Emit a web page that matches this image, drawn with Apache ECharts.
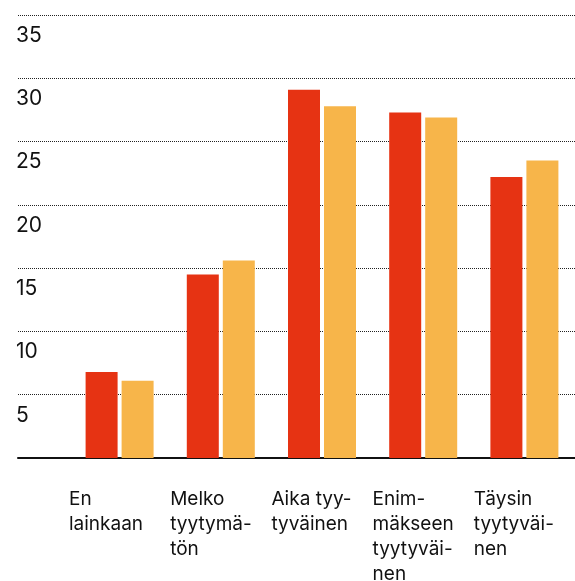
<!DOCTYPE html>
<html>
<head>
<meta charset="utf-8">
<script src="https://cdn.jsdelivr.net/npm/echarts@6/dist/echarts.min.js"></script>
<style>
  html, body { margin: 0; padding: 0; background: #fff; }
  #chart { width: 575px; height: 581px; }
</style>
</head>
<body>
<div id="chart"></div>
<script>
// luokat ja arvot
const categories = ['En\nlainkaan', 'Melko\ntyytymä-\ntön', 'Aika tyy-\ntyväinen', 'Enim-\nmäkseen\ntyytyväi-\nnen', 'Täysin\ntyytyväi-\nnen']
const valuesRed = [6.8, 14.5, 29.1, 27.3, 22.2]
const valuesOrange = [6.1, 15.6, 27.8, 26.9, 23.5]
const yTicks = [0, 5, 10, 15, 20, 25, 30, 35]

const FONT = 'Inter, "Noto Sans", sans-serif'

const chart = echarts.init(document.getElementById('chart'))

const option = {
  animation: false,
  grid: [
    // gridlines + y labels, full width
    { left: 18, right: 0, top: 15, bottom: 123, outerBoundsMode: 'none' },
    // bars
    { left: 69, right: 0, top: 15, bottom: 123, outerBoundsMode: 'none' }
  ],
  xAxis: [
    {
      gridIndex: 0,
      type: 'value',
      min: 0,
      max: 1,
      axisLine: { show: true, lineStyle: { color: '#111', width: 2 } },
      axisTick: { show: false },
      axisLabel: { show: false },
      splitLine: { show: false }
    },
    {
      gridIndex: 1,
      type: 'category',
      data: categories,
      axisLine: { show: false },
      axisTick: { show: false },
      axisLabel: { show: false }
    },
    {
      // labels at the start of each band
      gridIndex: 1,
      type: 'category',
      position: 'bottom',
      boundaryGap: false,
      data: categories.concat(['']),
      axisLine: { show: false },
      axisTick: { show: false },
      axisLabel: {
        interval: 0,
        align: 'left',
        margin: 29,
        color: '#111',
        fontFamily: FONT,
        fontSize: 19,
        lineHeight: 25
      }
    }
  ],
  yAxis: [
    {
      gridIndex: 0,
      type: 'value',
      min: yTicks[0],
      max: yTicks[yTicks.length - 1],
      interval: 5,
      axisLine: { show: false },
      axisTick: { show: false },
      axisLabel: {
        showMinLabel: false,
        align: 'left',
        verticalAlign: 'top',
        padding: [10, 0, 0, 0],
        margin: 2,
        color: '#111',
        fontFamily: FONT,
        fontSize: 21
      },
      splitLine: {
        show: true,
        lineStyle: { color: '#222', type: [1, 1], width: 1 }
      }
    },
    {
      gridIndex: 1,
      type: 'value',
      min: yTicks[0],
      max: yTicks[yTicks.length - 1],
      interval: 5,
      show: false,
      splitLine: { show: false }
    }
  ],
  series: [
    {
      type: 'bar',
      xAxisIndex: 1,
      yAxisIndex: 1,
      data: valuesRed,
      barWidth: 32,
      barGap: '12.5%',
      itemStyle: { color: '#e63313' }
    },
    {
      type: 'bar',
      xAxisIndex: 1,
      yAxisIndex: 1,
      data: valuesOrange,
      barWidth: 32,
      barGap: '12.5%',
      itemStyle: { color: '#f7b54a' }
    }
  ]
}

option && chart.setOption(option)
</script>
</body>
</html>
